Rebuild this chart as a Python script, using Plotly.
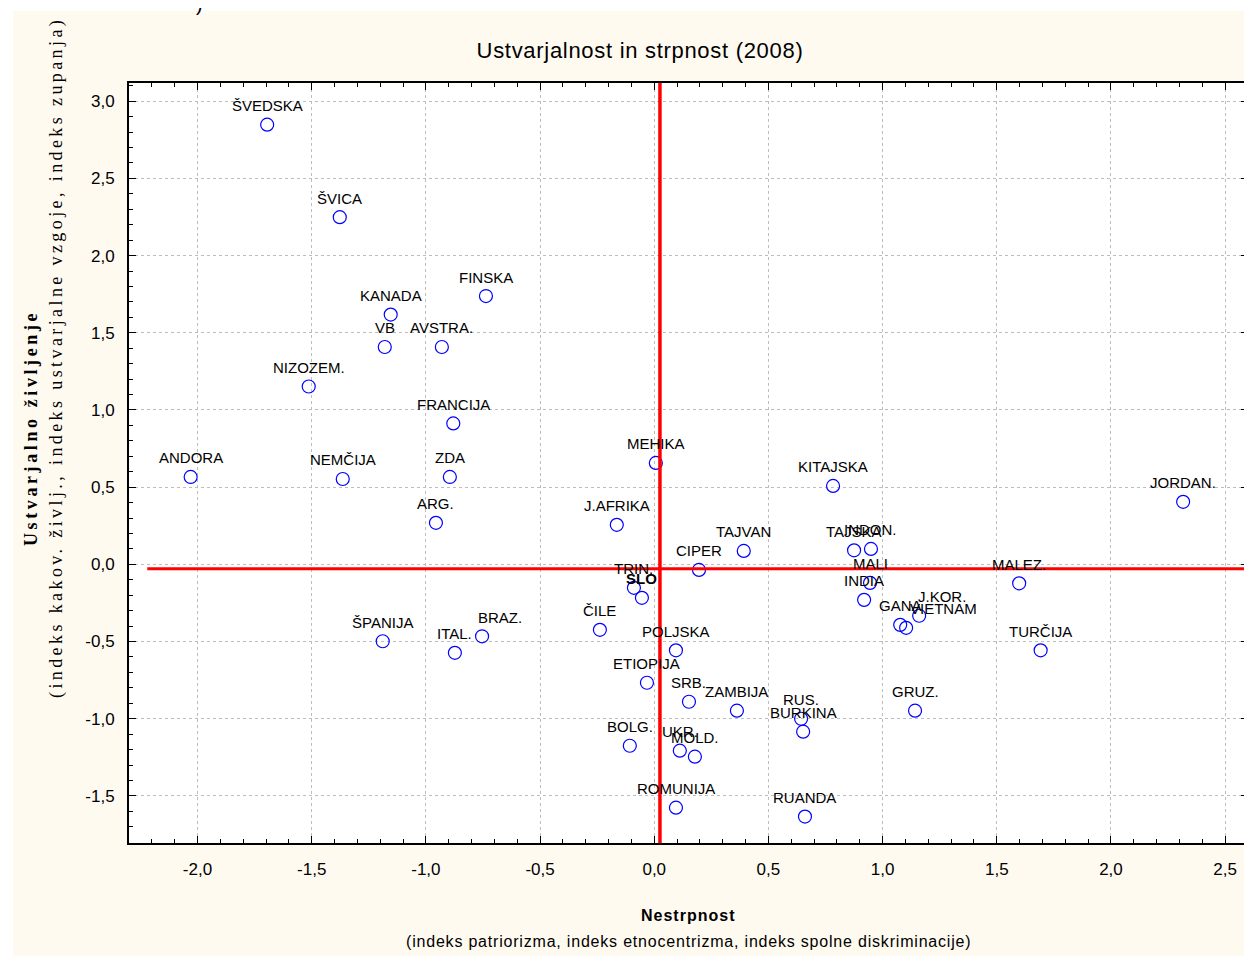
import plotly.graph_objects as go

# Države in njihove vrednosti (Nestrpnost, Ustvarjalno življenje)
drzave = ["ŠVEDSKA", "ŠVICA", "FINSKA", "KANADA", "VB", "AVSTRA.", "NIZOZEM.", "FRANCIJA",
          "MEHIKA", "ANDORA", "NEMČIJA", "ZDA", "KITAJSKA", "JORDAN.", "ARG.", "J.AFRIKA",
          "TAJVAN", "TAJSKA", "INDON.", "CIPER", "MALI", "INDIA", "MALEZ.", "TRIN.", "SLO",
          "J.KOR.", "GANA", "VIETNAM", "ČILE", "ŠPANIJA", "ITAL.", "BRAZ.", "POLJSKA",
          "TURČIJA", "ETIOPIJA", "SRB.", "ZAMBIJA", "GRUZ.", "RUS.", "BURKINA", "BOLG.",
          "UKR.", "MOLD.", "ROMUNIJA", "RUANDA"]
nestrpnost = [-1.695, -1.377, -0.737, -1.154, -1.180, -0.930, -1.513, -0.880,
              0.007, -2.030, -1.364, -0.895, 0.783, 2.316, -0.956, -0.164,
              0.392, 0.875, 0.949, 0.196, 0.945, 0.919, 1.598, -0.089, -0.054,
              1.160, 1.077, 1.103, -0.238, -1.189, -0.873, -0.754, 0.095,
              1.692, -0.032, 0.152, 0.362, 1.142, 0.643, 0.652, -0.107,
              0.112, 0.178, 0.095, 0.660]
ustvarjalnost = [2.848, 2.249, 1.738, 1.618, 1.408, 1.408, 1.152, 0.913,
                 0.657, 0.566, 0.553, 0.566, 0.508, 0.405, 0.269, 0.256,
                 0.087, 0.091, 0.100, -0.036, -0.120, -0.230, -0.123, -0.152, -0.217,
                 -0.333, -0.392, -0.411, -0.424, -0.498, -0.573, -0.466, -0.557,
                 -0.557, -0.767, -0.890, -0.948, -0.948, -1.000, -1.084, -1.175,
                 -1.207, -1.246, -1.576, -1.634]

# Referenčni črti (povprečja)
x_ref = 0.025
y_ref = -0.029
x_ref_start = -2.22

x_tick_vals = [-2.0, -1.5, -1.0, -0.5, 0.0, 0.5, 1.0, 1.5, 2.0, 2.5]
x_tick_text = ["-2,0", "-1,5", "-1,0", "-0,5", "0,0", "0,5", "1,0", "1,5", "2,0", "2,5"]
y_tick_vals = [-1.5, -1.0, -0.5, 0.0, 0.5, 1.0, 1.5, 2.0, 2.5, 3.0]
y_tick_text = ["-1,5", "-1,0", "-0,5", "0,0", "0,5", "1,0", "1,5", "2,0", "2,5", "3,0"]

x_range = [-2.3, 2.6]
y_range = [-1.805, 3.118]

# Zamiki oznak, ki niso centrirane nad točko (v pikslih)
zamik_oznak = {"BRAZ.": 18, "J.KOR.": 23, "VIETNAM": 37}

# stran ima 8 px roba, zato je slika za toliko manjša
ROB = 8
W, H = 1252 - ROB, 956 - ROB
L, R, T, B = 129 - ROB, 4, 83 - ROB, 113
SANS = "Liberation Sans, Arial, sans-serif"
SERIF = "Liberation Serif, Times New Roman, serif"


def px(x, y):
    # pretvori piksel referenčne slike v koordinate 'paper'
    x, y = x - ROB, y - ROB
    return (x - L) / (W - L - R), (H - B - y) / (H - T - B)


def razmik(text, ls):
    return f"<span style='letter-spacing:{ls}px'>{text}</span>"


fig = go.Figure()

fig.add_trace(go.Scatter(
    x=nestrpnost,
    y=ustvarjalnost,
    mode='markers',
    marker=dict(symbol='circle-open', size=13, color='#0000FF', line=dict(width=1.2)),
    showlegend=False,
    hoverinfo='text',
    text=drzave
))

# Rdeči črti
fig.add_trace(go.Scatter(
    x=[x_ref_start, x_range[1]], y=[y_ref, y_ref],
    mode='lines', line=dict(color='#FF0000', width=3),
    showlegend=False, hoverinfo='skip', cliponaxis=False
))
fig.add_trace(go.Scatter(
    x=[x_ref, x_ref], y=[y_range[1], y_range[0] - 0.045],
    mode='lines', line=dict(color='#FF0000', width=3.5),
    showlegend=False, hoverinfo='skip', cliponaxis=False
))

annotations = []
for ime, xv, yv in zip(drzave, nestrpnost, ustvarjalnost):
    annotations.append(dict(
        x=xv, y=yv, xref='x', yref='y',
        text=f"<b>{ime}</b>" if ime == "SLO" else ime,
        showarrow=False, yshift=19, xshift=zamik_oznak.get(ime, 0),
        xanchor='center', yanchor='middle',
        font=dict(family=SANS, size=15, color='black')
    ))

# Naslovi osi
naslovi = [
    (688, 915, 0, razmik("<b>Nestrpnost</b>", 1), SANS, 16),
    (688, 941, 0, razmik("(indeks patriorizma, indeks etnocentrizma, indeks spolne diskriminacije)", 0.8), SANS, 16),
    (31, 428, -90, razmik("<b>Ustvarjalno življenje</b>", 3.6), SERIF, 18),
    (57, 358, -90, razmik("(indeks kakov. življ., indeks ustvarjalne vzgoje, indeks zupanja)", 3.4), SERIF, 18),
    (199, 4, 0, ")", SANS, 20),
]
for nx, ny, kot, besedilo, druzina, velikost in naslovi:
    ax, ay = px(nx, ny)
    annotations.append(dict(x=ax, y=ay, xref='paper', yref='paper', showarrow=False,
                            xanchor='center', yanchor='middle', textangle=kot,
                            text=besedilo, font=dict(family=druzina, size=velikost, color='black')))

# Bel rob zgoraj in levo
x_left, y_top = px(ROB, ROB)
x_cream, y_cream = px(13, 11)
shapes = [
    dict(type='rect', xref='paper', yref='paper', x0=x_left - 0.05, x1=1.1, y0=y_cream, y1=y_top + 0.05,
         fillcolor='white', line=dict(width=0), layer='below'),
    dict(type='rect', xref='paper', yref='paper', x0=x_left - 0.05, x1=x_cream, y0=-0.3, y1=y_top + 0.05,
         fillcolor='white', line=dict(width=0), layer='below'),
]

axis_common = dict(
    showline=True, linecolor='black', linewidth=2, mirror='allticks',
    ticks='inside', ticklen=7, tickcolor='black', tickwidth=1,
    showgrid=True, gridcolor='#BDBDBD', griddash='dot', gridwidth=1,
    zeroline=False,
    minor=dict(dtick=0.1, ticks='inside', ticklen=4, tickcolor='black', showgrid=False),
    tickfont=dict(family=SANS, size=17, color='black'),
)

fig.update_layout(
    width=W, height=H,
    margin=dict(l=L, r=R, t=T, b=B, autoexpand=False),
    paper_bgcolor='#FFFAF0',
    plot_bgcolor='white',
    title=dict(text=razmik("Ustvarjalnost in strpnost (2008)", 0.7), xref='container', yref='container',
               x=(640 - ROB) / W, y=1 - (50 - ROB) / H, xanchor='center', yanchor='middle',
               font=dict(family=SANS, size=22, color='black')),
    xaxis=dict(range=x_range, tickvals=x_tick_vals, ticktext=x_tick_text,
               ticklabelstandoff=10, **axis_common),
    yaxis=dict(range=y_range, tickvals=y_tick_vals, ticktext=y_tick_text,
               ticklabelstandoff=9, **axis_common),
    annotations=annotations,
    shapes=shapes,
    showlegend=False,
)

fig.write_html("out.html")
